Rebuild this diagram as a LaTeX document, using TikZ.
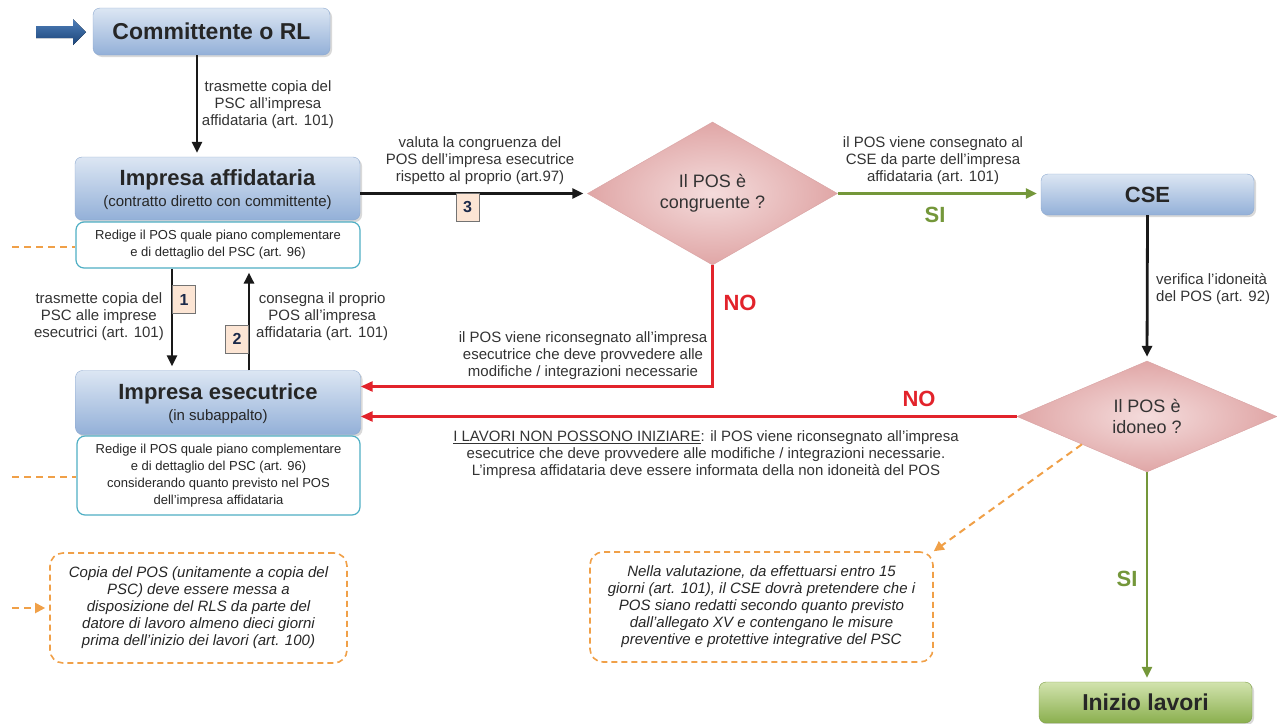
\documentclass[tikz,border=0pt]{standalone}
\usepackage{fontspec}
\setmainfont{Liberation Sans}
\usetikzlibrary{shapes.geometric,shadows,arrows.meta}
\definecolor{boxtop}{HTML}{DCE6F3}
\definecolor{boxbot}{HTML}{93B0D8}
\definecolor{boxline}{HTML}{8CA8CF}
\definecolor{posline}{HTML}{4FAFC4}
\definecolor{arancio}{HTML}{F0A048}
\definecolor{rossono}{HTML}{E2232B}
\definecolor{verdesi}{HTML}{74973A}
\definecolor{dtop}{HTML}{F4DCDC}
\definecolor{dbot}{HTML}{E0A6A6}
\definecolor{dline}{HTML}{D8A2A2}
\definecolor{numfill}{HTML}{FCE5D4}
\definecolor{numtext}{HTML}{1C2A4A}
\definecolor{gtop}{HTML}{D2E3AE}
\definecolor{gbot}{HTML}{8AAF4E}
\definecolor{gline}{HTML}{7D9E45}
\definecolor{frtop}{HTML}{4F7FBA}
\definecolor{frbot}{HTML}{1B4478}
\newcommand\sottotesto{\mdseries\fontsize{15}{21}\selectfont}
\begin{document}
\begin{tikzpicture}[x=1pt,y=-1pt,
	ente/.style={rectangle, rounded corners=7pt, draw=boxline, top color=boxtop, bottom color=boxbot, drop shadow={opacity=0.3, shadow xshift=2pt, shadow yshift=-2pt}, font=\bfseries\fontsize{22}{21}\selectfont, text=black!85, align=center, inner sep=0pt},
	nota/.style={rectangle, rounded corners=8pt, draw=posline, line width=1.2pt, fill=white, font=\fontsize{13}{17}\selectfont, text=black!85, align=center, inner sep=0pt},
	rif/.style={rectangle, rounded corners=13pt, draw=arancio, line width=1.6pt, dash pattern=on 6pt off 4pt, font=\itshape\fontsize{15}{17}\selectfont, text=black!85, align=center, inner sep=0pt},
	scelta/.style={diamond, draw=dline, inner color=dtop, outer color=dbot, font=\fontsize{18}{21}\selectfont, text=black!80, align=center, inner sep=0pt},
	lbl/.style={font=\fontsize{15}{17}\selectfont, text=black!80, align=center, inner sep=0pt},
	num/.style={rectangle, draw=black!55, fill=numfill, minimum width=23pt, minimum height=28pt, font=\bfseries\fontsize{16}{16}\selectfont, text=numtext, inner sep=0pt},
	esito/.style={font=\bfseries\fontsize{22}{22}\selectfont, inner sep=0pt},
	nero/.style={line width=2.8pt, draw=black!90, -{Triangle[length=11pt,width=10pt]}, shorten >=4pt},
	rosso/.style={line width=2.6pt, draw=rossono, -{Triangle[length=12pt,width=10pt]}},
	verde/.style={line width=2.6pt, draw=verdesi, -{Triangle[length=11pt,width=10pt]}, shorten >=4pt},
	tratt/.style={draw=arancio, line width=2pt, dash pattern=on 7pt off 5pt}]
	\useasboundingbox (0,0) rectangle (1277,723);
	\fill[top color=frtop, bottom color=frbot] (36,26) -- (73,26) -- (73,19) -- (86,32) -- (73,45) -- (73,38) -- (36,38) -- cycle;
	\node[ente, minimum width=237pt, minimum height=47pt, font=\bfseries\fontsize{23}{23}\selectfont] (comm) at (211.5,31.5) {Committente o RL};
	\node[ente, minimum width=285pt, minimum height=63pt] (affid) at (217.5,188.5) {\rule{0pt}{19pt}Impresa affidataria\\{\sottotesto (contratto diretto con committente)}};
	\node[nota, minimum width=284pt, minimum height=46pt] (affidpos) at (218,245) {Redige il POS quale piano complementare\\e di dettaglio del PSC (art. 96)};
	\node[ente, minimum width=285pt, minimum height=64pt] (esec) at (218,402.5) {\rule{0pt}{19pt}Impresa esecutrice\\{\sottotesto (in subappalto)}};
	\node[nota, minimum width=283pt, minimum height=79pt] (esecpos) at (218.5,475.5) {Redige il POS quale piano complementare\\e di dettaglio del PSC (art. 96)\\considerando quanto previsto nel POS\\dell'impresa affidataria};
	\node[rif, minimum width=297pt, minimum height=110pt] (rls) at (198.5,608) {Copia del POS (unitamente a copia del\\PSC) deve essere messa a\\disposizione del RLS da parte del\\datore di lavoro almeno dieci giorni\\prima dell'inizio dei lavori (art. 100)};
	\node[scelta, minimum width=250pt, minimum height=114pt] (cong) at (712.5,193.5) {Il POS è\\congruente ?};
	\node[ente, minimum width=213pt, minimum height=41pt] (cse) at (1147.5,194.5) {CSE};
	\node[scelta, minimum width=260pt, minimum height=111pt] (idon) at (1147,416.5) {Il POS è\\idoneo ?};
	\node[rif, minimum width=343pt, minimum height=110pt] (valut) at (761.5,607) {Nella valutazione, da effettuarsi entro 15\\giorni (art. 101), il CSE dovrà pretendere che i\\POS siano redatti secondo quanto previsto\\dall'allegato XV e contengano le misure\\preventive e protettive integrative del PSC};
	\node[ente, top color=gtop, bottom color=gbot, draw=gline, minimum width=213pt, minimum height=41pt, font=\bfseries\fontsize{23}{23}\selectfont] (inizio) at (1145.5,702.5) {Inizio lavori};
	\draw[nero] (comm.south -| 197,0) -- (affid.north -| 197,0);
	\draw[nero] (affidpos.south -| 172,0) -- (esec.north -| 172,0);
	\draw[nero] (esec.north -| 249,0) -- (affidpos.south -| 249,0);
	\draw[nero] (affid.east |- cong.west) -- (cong.west);
	\draw[verde] (cong.east) -- (cong.east -| cse.west);
	\draw[nero] (cse.south) -- (idon.north);
	\draw[rosso] (cong.south) |- ([yshift=16pt]esec.east);
	\draw[rosso] (idon.west) -- (idon.west -| esec.east);
	\draw[verde] (idon.south) -- (idon.south |- inizio.north);
	\draw[tratt, -{Triangle[length=10pt,width=10pt]}] (idon.south west) -- (valut.north east);
	\coordinate (s1) at (12,247);
	\coordinate (s2) at (12,477);
	\coordinate (s3) at (12,608);
	\draw[tratt] (s1) -- (s1 -| affidpos.west);
	\draw[tratt] (s2) -- (s2 -| esecpos.west);
	\draw[tratt, -{Triangle[length=10pt,width=10pt]}, shorten >=4pt] (s3) -- (s3 -| rls.west);
	\node[num] (n1) at (184,299.5) {1};
	\node[num] (n2) at (237,339) {2};
	\node[num] (n3) at (467.5,207.5) {3};
	\node[lbl] (l1) at (268,105) {trasmette copia del\\PSC all'impresa\\affidataria (art. 101)};
	\node[lbl, anchor=east] (l2) at (164,317) {trasmette copia del\\PSC alle imprese\\esecutrici (art. 101)};
	\node[lbl, anchor=west] (l3) at (256,317) {consegna il proprio\\POS all'impresa\\affidataria (art. 101)};
	\node[lbl] (l4) at (480,161) {valuta la congruenza del\\POS dell'impresa esecutrice\\rispetto al proprio (art.97)};
	\node[lbl] (l5) at (933,161) {il POS viene consegnato al\\CSE da parte dell'impresa\\affidataria (art. 101)};
	\node[lbl, align=left, anchor=west] (l6) at (1156,289) {verifica l'idoneità\\del POS (art. 92)};
	\node[lbl] (l7) at (583,356) {il POS viene riconsegnato all'impresa\\esecutrice che deve provvedere alle\\modifiche / integrazioni necessarie};
	\node[lbl] (l8) at (706,455) {\underline{I LAVORI NON POSSONO INIZIARE}: il POS viene riconsegnato all'impresa\\esecutrice che deve provvedere alle modifiche / integrazioni necessarie.\\L'impresa affidataria deve essere informata della non idoneità del POS};
	\node[esito, text=rossono] (no1) at (740,303) {NO};
	\node[esito, text=rossono] (no2) at (919,399) {NO};
	\node[esito, text=verdesi] (si1) at (935,215) {SI};
	\node[esito, text=verdesi] (si2) at (1127,579) {SI};
\end{tikzpicture}
\end{document}
